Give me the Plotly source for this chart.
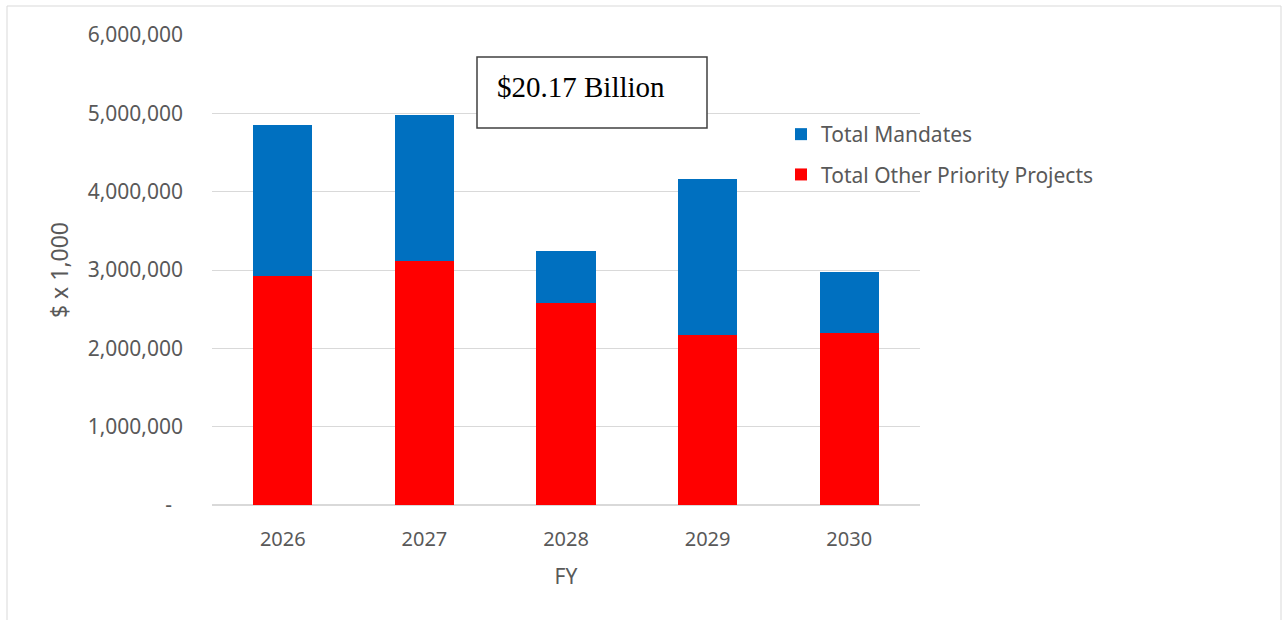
import plotly.graph_objects as go

# Capital program by fiscal year, values in $ x 1,000
fiscal_years = ["2026", "2027", "2028", "2029", "2030"]
other_priority = [2920000, 3110000, 2580000, 2170000, 2190000]
mandates = [1930000, 1870000, 660000, 1990000, 780000]

y_tick_vals = [0, 1000000, 2000000, 3000000, 4000000, 5000000, 6000000]
y_tick_text = ["-\u00a0\u00a0", "1,000,000", "2,000,000", "3,000,000",
               "4,000,000", "5,000,000", "6,000,000"]

total_label = "$20.17 Billion"

FONT = "Noto Sans"
GREY_TEXT = "#595959"
GRID = "#d9d9d9"

# plot area in pixels, used to place the frame and text box
W, H = 1284, 620
L, R, T, B = 212, 920, 35, 505


def px_x(p):
    return (p - L) / (R - L)


def px_y(p):
    return (B - p) / (B - T)


fig = go.Figure()

fig.add_trace(go.Bar(
    x=fiscal_years, y=other_priority, name="Total Other Priority Projects",
    marker=dict(color="#FF0000", line=dict(width=0)), legendgroup="b",
    legendrank=2,
))
fig.add_trace(go.Bar(
    x=fiscal_years, y=mandates, name="Total Mandates",
    marker=dict(color="#0070C0", line=dict(width=0)), legendgroup="a",
    legendrank=1,
))

fig.update_layout(
    width=W, height=H,
    margin=dict(l=L, r=W - R, t=T, b=H - B, autoexpand=False),
    barmode="stack",
    bargap=0.583,
    plot_bgcolor="white",
    paper_bgcolor="white",
    font=dict(family=FONT, size=20, color=GREY_TEXT),
    showlegend=True,
    legend=dict(
        x=px_x(781), y=px_y(114), xanchor="left", yanchor="top",
        traceorder="grouped", tracegroupgap=10,
        font=dict(family=FONT, size=21, color=GREY_TEXT),
        bgcolor="rgba(0,0,0,0)", itemwidth=30,
    ),
    xaxis=dict(
        type="category", range=[-0.5, 4.5],
        showgrid=False, showline=False, zeroline=False,
        ticks="", ticklabelstandoff=20,
        tickfont=dict(family=FONT, size=20, color=GREY_TEXT),
        title=dict(text="FY", standoff=18,
                   font=dict(family=FONT, size=21, color=GREY_TEXT)),
        automargin=False,
    ),
    yaxis=dict(
        range=[0, 6000000],
        tickvals=y_tick_vals, ticktext=y_tick_text,
        showgrid=True, gridcolor=GRID, gridwidth=1,
        zeroline=True, zerolinecolor=GRID, zerolinewidth=2,
        showline=False, ticks="", ticklabelstandoff=28,
        tickfont=dict(family=FONT, size=21, color=GREY_TEXT),
        title=dict(text="$ x 1,000", standoff=12,
                   font=dict(family=FONT, size=23, color=GREY_TEXT)),
        automargin=False,
    ),
)

# chart frame
fig.add_shape(
    type="rect", xref="paper", yref="paper",
    x0=px_x(7), x1=px_x(1281), y0=px_y(640), y1=px_y(6),
    line=dict(color=GRID, width=1), fillcolor="rgba(0,0,0,0)", layer="below",
)

# total text box
fig.add_shape(
    type="rect", xref="paper", yref="paper",
    x0=px_x(477), x1=px_x(707), y0=px_y(128), y1=px_y(57),
    line=dict(color="#404040", width=1.5), fillcolor="white", layer="above",
)
fig.add_annotation(
    xref="paper", yref="paper", x=px_x(495), y=px_y(87),
    xanchor="left", yanchor="middle", showarrow=False,
    text=total_label,
    font=dict(family="Liberation Serif", size=29, color="black"),
)

fig.write_html("out.html")
